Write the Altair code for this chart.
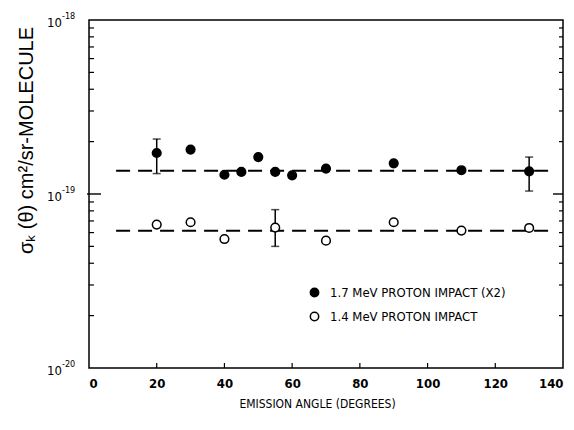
import altair as alt
import pandas as pd

FONT = "DejaVu Sans Condensed, Liberation Sans Narrow, Liberation Sans, sans-serif"
TFONT = "Liberation Sans, Arial, sans-serif"

# ---- data ----
series_names = ["1.7 MeV PROTON IMPACT (X2)", "1.4 MeV PROTON IMPACT"]

angles_17 = [20, 30, 40, 45, 50, 55, 60, 70, 90, 110, 130]
sigma_17 = [1.72e-19, 1.80e-19, 1.29e-19, 1.34e-19, 1.63e-19, 1.34e-19,
            1.28e-19, 1.40e-19, 1.50e-19, 1.37e-19, 1.35e-19]

angles_14 = [20, 30, 40, 55, 70, 90, 110, 130]
sigma_14 = [6.67e-20, 6.88e-20, 5.51e-20, 6.41e-20, 5.39e-20, 6.88e-20,
            6.16e-20, 6.38e-20]

err_angles = [20, 130, 55]
err_lo = [1.31e-19, 1.04e-19, 5.0e-20]
err_hi = [2.07e-19, 1.63e-19, 8.13e-20]

mean_values = [1.36e-19, 6.15e-20]
mean_start = [8, 8]
mean_end = [136.5, 136.5]

x_ticks = [0, 20, 40, 60, 80, 100, 120, 140]
x_inner_ticks = [20, 40, 60, 80, 100, 120]
y_decades = [1e-20, 1e-19, 1e-18]
y_exponents = ["-20", "-19", "-18"]
y_minor = [k * 10.0 ** e for e in (-20, -19) for k in range(2, 10)]
y_major_inner = [1e-19]

W, H = 474, 348
X_TITLE = "EMISSION ANGLE (DEGREES)"
Y_TITLE = "σₖ (θ) cm²/sr-MOLECULE"

# ---- tables ----
pts = pd.DataFrame({
    "angle": angles_17 + angles_14,
    "sigma": sigma_17 + sigma_14,
    "series": [series_names[0]] * len(angles_17) + [series_names[1]] * len(angles_14),
})
err = pd.DataFrame({"angle": err_angles, "lo": err_lo, "hi": err_hi})
means = pd.DataFrame({"angle": mean_start, "x1": mean_end, "sigma": mean_values})
dec = pd.DataFrame({"sigma": y_decades, "e": y_exponents})
minor = pd.DataFrame({"sigma": y_minor})
major = pd.DataFrame({"sigma": y_major_inner})
xt = pd.DataFrame({"angle": x_inner_ticks})

xs = alt.Scale(domain=[0, 140], nice=False, zero=False)
ys = alt.Scale(type="log", domain=[1e-20, 1e-18], nice=False)

x_axis = alt.Axis(values=x_ticks, ticks=False, tickSize=0, domain=False, grid=False,
                  labelFont=FONT, labelFontSize=13, labelFontWeight="bold",
                  labelColor="black", labelPadding=9,
                  title=X_TITLE, titleFont=FONT, titleFontSize=12,
                  titleFontWeight="normal", titleColor="black", titlePadding=8,
                  titleX=228, titleAlign="center")
y_axis = alt.Axis(values=y_decades, labels=False, ticks=False, tickSize=0, domain=False,
                  grid=False, title=Y_TITLE, titleFont=TFONT,
                  titleFontSize=20, titleFontWeight="normal", titleColor="black",
                  titleAngle=270, titleX=-63, titleY=120, titleAlign="center",
                  titleBaseline="middle")

X = lambda f: alt.X(f, scale=xs, axis=x_axis, title=X_TITLE)
Y = lambda f: alt.Y(f, scale=ys, axis=y_axis, title=Y_TITLE)

points = alt.Chart(pts).mark_point(filled=True, stroke="black", strokeWidth=1.5,
                                   size=75, opacity=1, fillOpacity=1).encode(
    x=X("angle:Q"),
    y=Y("sigma:Q"),
    fill=alt.Fill("series:N", scale=alt.Scale(domain=series_names, range=["black", "white"]),
                  legend=alt.Legend(orient="none", legendX=219, legendY=266, title=None,
                                    padding=0, symbolType="circle", symbolSize=70,
                                    symbolStrokeColor="black", symbolStrokeWidth=1.5,
                                    labelFont=FONT, labelFontSize=13, labelColor="black",
                                    labelOffset=9, rowPadding=9, labelLimit=0)),
)

bars = alt.Chart(err).mark_rule(color="black", strokeWidth=1.5).encode(
    x=X("angle:Q"), y=Y("lo:Q"), y2="hi:Q",
)
cap_lo = alt.Chart(err).mark_tick(orient="horizontal", color="black", size=8,
                                  thickness=1.5).encode(x=X("angle:Q"), y=Y("lo:Q"))
cap_hi = alt.Chart(err).mark_tick(orient="horizontal", color="black", size=8,
                                  thickness=1.5).encode(x=X("angle:Q"), y=Y("hi:Q"))

lines = alt.Chart(means).mark_rule(color="black", strokeWidth=1.8,
                                   strokeDash=[14, 8]).encode(
    x=X("angle:Q"), x2="x1:Q", y=Y("sigma:Q"),
)

# inward axis ticks
left_minor = alt.Chart(minor).mark_rule(color="black", strokeWidth=1.2).encode(
    y=Y("sigma:Q"), x=alt.value(0), x2=alt.value(5))
right_minor = alt.Chart(minor).mark_rule(color="black", strokeWidth=1.2).encode(
    y=Y("sigma:Q"), x=alt.value(W), x2=alt.value(W - 4))
left_major = alt.Chart(major).mark_rule(color="black", strokeWidth=1.4).encode(
    y=Y("sigma:Q"), x=alt.value(-2), x2=alt.value(12))
right_major = alt.Chart(major).mark_rule(color="black", strokeWidth=1.4).encode(
    y=Y("sigma:Q"), x=alt.value(W), x2=alt.value(W - 10))
bottom_ticks = alt.Chart(xt).mark_rule(color="black", strokeWidth=1.2).encode(
    x=X("angle:Q"), y=alt.value(H), y2=alt.value(H - 5))

# decade labels 10^e
lab10 = alt.Chart(dec).mark_text(font=FONT, fontSize=13, align="right",
                                 baseline="middle", dy=3, color="black").encode(
    y=Y("sigma:Q"), x=alt.value(-27), text=alt.value("10"))
labexp = alt.Chart(dec).mark_text(font=FONT, fontSize=9, align="left",
                                  baseline="middle", dy=-4, color="black").encode(
    y=Y("sigma:Q"), x=alt.value(-27), text="e:N")

chart = alt.layer(
    lines, bars, cap_lo, cap_hi, points,
    left_minor, right_minor, left_major, right_major, bottom_ticks,
    lab10, labexp,
).properties(
    width=W, height=H,
    autosize=alt.AutoSizeParams(type="none"),
    padding={"left": 81, "top": 12, "right": 3, "bottom": 50},
    background="white",
).configure_view(stroke="black", strokeWidth=1.5)

chart.save("out.html", embed_options={"renderer": "svg", "actions": False})
